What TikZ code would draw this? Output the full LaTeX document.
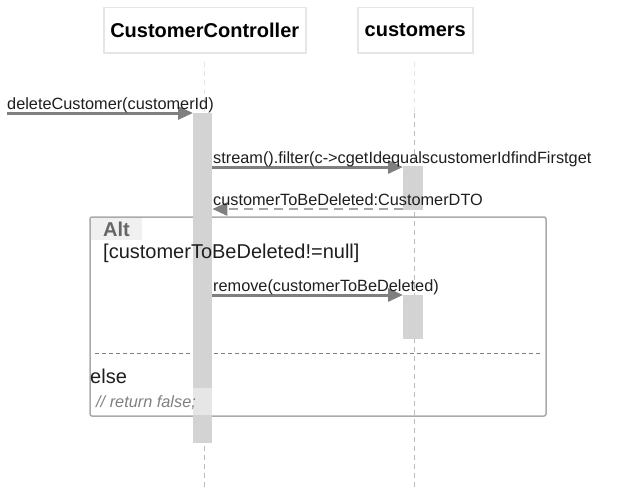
\documentclass[tikz,border=0pt]{standalone}
\usepackage{fontspec}
\setmainfont{Liberation Sans}
\usetikzlibrary{arrows.meta}
\definecolor{msgc}{HTML}{7F7F7F}
\definecolor{retc}{HTML}{A6A6A6}
\definecolor{actc}{HTML}{D3D3D3}
\definecolor{lifec}{HTML}{BBBBBB}
\definecolor{lifefaint}{HTML}{E4E4E4}
\definecolor{framec}{HTML}{AAAAAA}
\definecolor{hdrc}{HTML}{E6E6E6}
\definecolor{txtc}{HTML}{1E1E1E}
\tikzset{
  hdr/.style={draw=hdrc, line width=1.5pt, fill=white, font=\fontsize{20}{24}\selectfont\bfseries, text=black, inner sep=0pt, minimum height=45pt, anchor=north west},
  lifeline/.style={draw=lifec, line width=0.8pt, dash pattern=on 5pt off 4pt},
  actbar/.style={fill=actc, draw=none, inner sep=0pt},
  msg/.style={draw=msgc, line width=3pt, -{Triangle[length=15pt,width=13pt]}},
  ret/.style={draw=retc, line width=2.5pt, dash pattern=on 9pt off 6pt, -{Triangle[length=15pt,width=13pt,color=msgc]}},
  lbl/.style={font=\fontsize{16.3}{19}\selectfont, text=txtc, inner sep=0pt, anchor=base west},
  big/.style={font=\fontsize{20}{24}\selectfont, text=txtc, inner sep=0pt, anchor=base west},
}
\begin{document}
\begin{tikzpicture}[x=1pt,y=-1pt]
\useasboundingbox (0,0) rectangle (636,487);
% headers
\node[hdr, minimum width=202pt] (h1) at (103,7) {CustomerController};
\node[hdr, minimum width=115pt] (h2) at (357,7) {customers};
% lifelines
\coordinate (l1top) at (204,62);
\coordinate (l1mid) at (204,113);
\coordinate (l1bot) at (204,487);
\coordinate (l2top) at (414,62);
\coordinate (l2mid) at (414,113);
\coordinate (l2bot) at (414,487);
\draw[lifeline, draw=lifefaint] (l1top) -- (l1mid);
\draw[lifeline] (l1mid) -- (l1bot);
\draw[lifeline, draw=lifefaint] (l2top) -- (l2mid);
\draw[lifeline] (l2mid) -- (l2bot);
% alt frame
\coordinate (fnw) at (90,217);
\coordinate (fse) at (546,416);
\draw[framec, line width=1.5pt, rounded corners=2pt] (fnw) rectangle (fse);
\fill[black!6] (91,218) rectangle (142,240);
\coordinate (sepl) at (95,353);
\coordinate (sepr) at (541,353);
\draw[draw=msgc, line width=0.8pt, dash pattern=on 4pt off 3pt] (sepl) -- (sepr);
% activation bars
\node[actbar, minimum width=19pt, minimum height=330pt, anchor=north west] (act1) at (193,113) {};
\node[actbar, minimum width=20pt, minimum height=44pt, anchor=north west] (act2) at (403,166) {};
\node[actbar, minimum width=20pt, minimum height=44pt, anchor=north west] (act3) at (403,295) {};
% messages
\coordinate (start) at (7,113);
\draw[msg] (start) -- (act1.north west);
\draw[msg] (act1.east |- 0,167) -- (act2.west |- 0,167);
\draw[ret] (act2.west |- 0,209) -- (act1.east |- 0,209);
\draw[msg] (act1.east |- act3.north) -- (act3.north west);
% labels
\node[lbl] (m1) at (7,109) {deleteCustomer(customerId)};
\node[lbl] (m2) at (213,163) {stream().filter(c->cgetIdequalscustomerIdfindFirstget};
\node[lbl] (m3) at (213,205) {customerToBeDeleted:CustomerDTO};
\node[lbl] (m4) at (213,291) {remove(customerToBeDeleted)};
\node[big, font=\fontsize{20}{24}\selectfont\bfseries, text=black!60] (alt) at (103,236) {Alt};
\node[big] (guard) at (103,258) {[customerToBeDeleted!=null]};
\node[big] (else) at (90,383) {else};
% note
\fill[white, opacity=0.45] (91,388) rectangle (213,415);
\node[lbl, font=\fontsize{16.3}{19}\selectfont\itshape, text=black!50] (note) at (96,407) {// return false;};
\end{tikzpicture}
\end{document}
